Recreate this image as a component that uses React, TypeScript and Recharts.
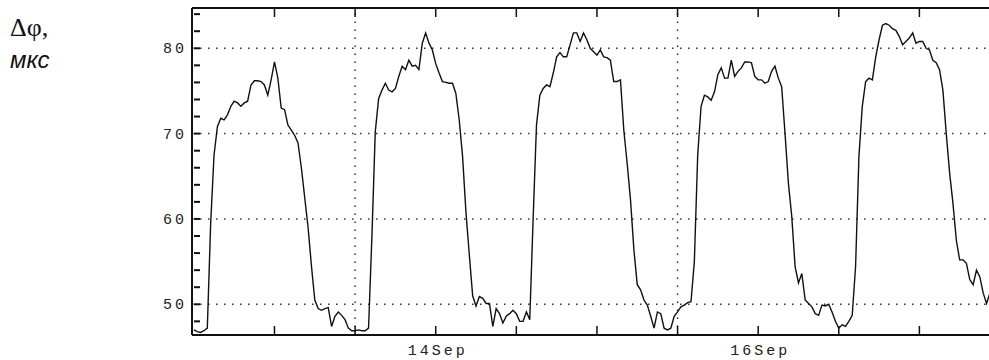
import React from "react";
import { LineChart, Line, XAxis, YAxis, ReferenceLine } from "recharts";

// hours from 13 Sep 00:00, one reading every half hour
const STEP_HOURS = 0.5;

// phase difference, microseconds
const phaseDelay = [
  47.0, 46.8, 46.7, 46.9, 47.2, 59.5, 67.5, 70.8, 71.8, 71.6,
  72.2, 73.2, 73.8, 73.6, 73.2, 73.6, 73.8, 75.7, 76.2, 76.2,
  76.1, 75.7, 74.5, 76.3, 78.4, 76.5, 73.0, 72.8, 71.0, 70.4,
  69.8, 68.9, 66.0, 62.5, 59.0, 54.5, 50.5, 49.5, 49.3, 49.5,
  49.6, 47.4, 48.6, 49.1, 48.7, 48.2, 47.2, 46.9, 46.9, 47.0,
  46.9, 46.9, 47.2, 57.9, 70.2, 74.1, 75.1, 75.9, 75.1, 74.9,
  75.3, 76.7, 77.9, 77.5, 78.6, 77.9, 78.0, 77.5, 80.6, 81.8,
  80.6, 79.8, 78.2, 77.1, 76.1, 76.0, 75.9, 75.9, 74.7, 71.6,
  67.3, 60.8, 55.8, 51.0, 49.8, 50.9, 50.7, 50.1, 50.1, 47.4,
  49.5, 48.9, 47.8, 48.6, 48.9, 49.3, 48.9, 48.0, 48.0, 49.1,
  48.2, 60.0, 71.0, 74.5, 75.3, 75.7, 75.5, 77.1, 79.0, 79.5,
  79.0, 79.0, 80.4, 81.8, 81.8, 80.8, 81.8, 81.0, 80.0, 79.6,
  79.2, 79.8, 79.0, 78.9, 78.6, 76.1, 76.1, 76.3, 70.4, 66.5,
  62.2, 56.4, 52.3, 51.7, 50.5, 49.9, 48.6, 47.2, 49.1, 48.9,
  47.2, 47.0, 47.2, 48.6, 49.1, 49.7, 49.9, 50.2, 50.3, 55.0,
  67.5, 73.2, 74.5, 74.3, 73.9, 74.9, 76.9, 77.7, 76.5, 76.5,
  78.6, 76.7, 77.3, 77.7, 78.4, 78.4, 78.3, 76.7, 76.3, 76.3,
  75.9, 76.1, 77.3, 77.9, 76.5, 75.5, 70.0, 64.2, 60.3, 54.4,
  52.5, 53.6, 50.5, 50.1, 49.7, 48.9, 48.7, 49.9, 49.8, 50.0,
  49.1, 48.0, 47.2, 47.6, 47.4, 48.0, 48.7, 54.4, 67.3, 73.2,
  76.1, 76.5, 76.3, 79.0, 81.0, 82.7, 82.9, 82.7, 82.3, 82.1,
  81.4, 80.4, 80.8, 81.2, 81.8, 80.6, 80.8, 80.8, 80.0, 79.8,
  78.6, 78.3, 77.5, 75.1, 70.0, 65.4, 61.8, 57.5, 55.2, 55.2,
  54.8, 52.9, 52.3, 54.0, 53.2, 51.3, 50.1, 51.3, 51.5,
];

const xTicks = [12, 24, 36, 48, 60, 72, 84, 96, 108, 120];
const xTickLabels: Record<number, string> = { 36: "14Sep", 84: "16Sep" };
const midnightGrid = [24, 72];

const yTicks = [48, 50, 52, 54, 56, 58, 60, 62, 64, 66, 68, 70, 72, 74, 76, 78, 80, 82, 84];
const yTickLabels = [50, 60, 70, 80];

const chartData = phaseDelay.map((v, i) => ({ t: i * STEP_HOURS, v }));

const tickFont = {
  fontFamily: "'Liberation Mono', monospace",
  fontSize: 15,
  letterSpacing: 3,
  fill: "#222",
};

function LeftTick({ x, y, payload }: any) {
  const v = payload.value;
  return (
    <g>
      <line x1={x + 2} x2={x + 8} y1={y} y2={y} stroke="#111" strokeWidth={2} />
      {yTickLabels.includes(v) && (
        <text x={x - 5} y={y + 5} textAnchor="end" {...tickFont}>
          {v}
        </text>
      )}
    </g>
  );
}

function BottomTick({ x, y, payload }: any) {
  const label = xTickLabels[payload.value];
  return (
    <g>
      <line x1={x} x2={x} y1={y} y2={y - 9} stroke="#111" strokeWidth={1.5} />
      {label && (
        <text x={x + 2} y={y + 20} textAnchor="middle" {...tickFont}>
          {label}
        </text>
      )}
    </g>
  );
}

function TopTick({ x, y }: any) {
  return <line x1={x} x2={x} y1={y} y2={y + 9} stroke="#111" strokeWidth={1.5} />;
}

export default function App() {
  return (
    <div
      style={{
        position: "absolute",
        left: 0,
        top: 0,
        width: 989,
        height: 360,
        overflow: "hidden",
        background: "#fff",
      }}
    >
      <div
        style={{
          position: "absolute",
          left: 10,
          top: 13,
          fontFamily: "'Liberation Serif', serif",
          fontSize: 26,
          color: "#111",
        }}
      >
        Δφ,
      </div>
      <div
        style={{
          position: "absolute",
          left: 10,
          top: 46,
          fontFamily: "'Liberation Sans', sans-serif",
          fontStyle: "italic",
          fontSize: 24,
          color: "#111",
        }}
      >
        мкс
      </div>
      <div style={{ position: "absolute", left: 0, top: 0 }}>
        <LineChart
          width={1001}
          height={360}
          data={chartData}
          margin={{ top: 0, right: 1, bottom: 0, left: 0 }}
        >
          <XAxis
            xAxisId="bottom"
            dataKey="t"
            type="number"
            domain={[-0.28, 120]}
            allowDataOverflow
            ticks={xTicks}
            interval={0}
            height={25}
            tickSize={0}
            tickMargin={0}
            tickLine={false}
            axisLine={{ stroke: "#111", strokeWidth: 2 }}
            tick={<BottomTick />}
          />
          <XAxis
            xAxisId="top"
            orientation="top"
            dataKey="t"
            type="number"
            domain={[-0.28, 120]}
            allowDataOverflow
            ticks={xTicks}
            interval={0}
            height={8}
            tickSize={0}
            tickMargin={0}
            tickLine={false}
            axisLine={{ stroke: "#111", strokeWidth: 2 }}
            tick={<TopTick />}
          />
          <YAxis
            type="number"
            domain={[46.4, 84.72]}
            allowDataOverflow
            ticks={yTicks}
            interval={0}
            width={192}
            tickSize={0}
            tickMargin={0}
            tickLine={false}
            axisLine={{ stroke: "#111", strokeWidth: 2 }}
            tick={<LeftTick />}
          />
          {yTickLabels.map((v) => (
            <ReferenceLine
              key={`h${v}`}
              xAxisId="bottom"
              y={v}
              stroke="#333"
              strokeWidth={1.5}
              strokeDasharray="1.5 6.5"
            />
          ))}
          {midnightGrid.map((t) => (
            <ReferenceLine
              key={`v${t}`}
              xAxisId="bottom"
              x={t}
              stroke="#333"
              strokeWidth={1.5}
              strokeDasharray="1.5 6.5"
            />
          ))}
          <Line
            xAxisId="bottom"
            type="linear"
            dataKey="v"
            stroke="#111"
            strokeWidth={1.4}
            dot={false}
            isAnimationActive={false}
          />
        </LineChart>
      </div>
    </div>
  );
}
